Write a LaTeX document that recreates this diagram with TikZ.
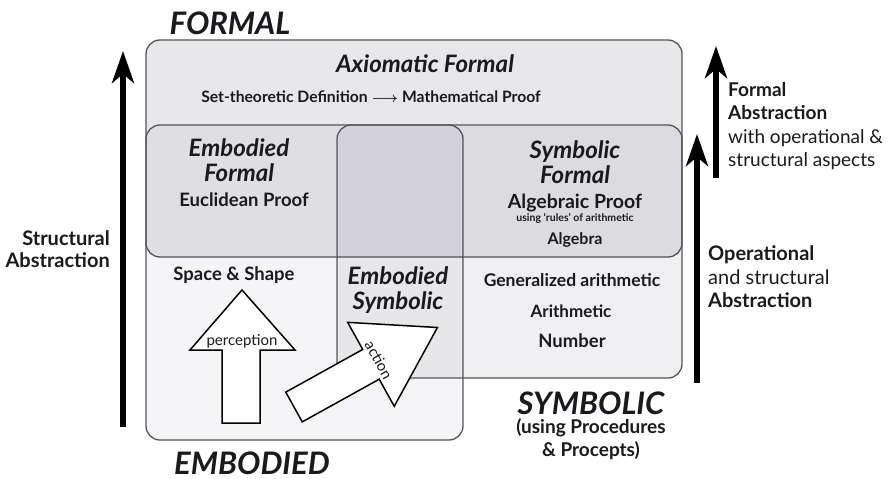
\documentclass[tikz,border=0pt]{standalone}
\usepackage{fontspec}
\setmainfont{Lato}
\usetikzlibrary{arrows.meta}

\definecolor{boxshade}{RGB}{30,30,60}
\definecolor{edgegray}{RGB}{85,85,90}
\definecolor{inkgray}{RGB}{25,25,30}

\newcommand{\fsz}[1]{\fontsize{#1}{1.15\dimexpr#1pt\relax}\selectfont}

\begin{document}
\begin{tikzpicture}[x=1pt, y=-1pt,
    box_style/.style={draw=edgegray, line width=1.3pt, rounded corners=14pt, fill=boxshade},
    world_style/.style={font=\bfseries\itshape\fontsize{31}{33}\selectfont, text=inkgray},
    title_style/.style={font=\bfseries\itshape\fontsize{24}{25}\selectfont, align=center, text=inkgray, inner sep=0pt},
    item_style/.style={font=\bfseries\fontsize{17}{19}\selectfont, text=inkgray, inner sep=0pt},
    side_style/.style={font=\fontsize{19}{23.5}\selectfont, text=inkgray, inner sep=0pt},
    up_arrow/.style={line width=5.5pt, -{Stealth[length=32pt, width=22pt, inset=9pt]}},
    block_arrow/.style={draw=black, line width=1.5pt, fill=white, line join=miter}
]
\useasboundingbox (0,0) rectangle (892,479);

% Three overlapping worlds
\draw[box_style, fill opacity=0.10] (146,40) rectangle (682,257);
\draw[box_style, fill opacity=0.045] (146,125) rectangle (463,440);
\draw[box_style, fill opacity=0.065] (337,125) rectangle (682,378);

% World names
\node[world_style] (formal_word) at (230,23) {FORMAL};
\node[world_style] (embodied_word) at (252,463) {EMBODIED};
\node[world_style] (symbolic_word) at (591,403) {SYMBOLIC};
\node[item_style, font=\bfseries\fontsize{19}{23}\selectfont, align=center] (procepts) at (591,439) {(using Procedures\\\& Procepts)};

% Axiomatic formal
\node[title_style] (axiomatic) at (425,64) {Axiomatic Formal};
\node[item_style, font=\bfseries\fontsize{15.7}{17}\selectfont] (settheory) at (371,97) {Set-theoretic Definition {\boldmath$\longrightarrow$} Mathematical Proof};

% Embodied formal
\node[title_style] (emb_formal) at (239,160) {Embodied\\Formal};
\node[item_style, font=\bfseries\fsz{18.5}] (euclid) at (244,200) {Euclidean Proof};

% Symbolic formal
\node[title_style] (sym_formal) at (575,162) {Symbolic\\Formal};
\node[item_style, font=\bfseries\fsz{19.5}] (alg_proof) at (575,203) {Algebraic Proof};
\node[item_style, font=\bfseries\fsz{10.5}] (rules) at (575,218) {using `rules' of arithmetic};
\node[item_style, font=\bfseries\fsz{16}] (algebra) at (575,240) {Algebra};

% Lower worlds
\node[item_style, font=\bfseries\fsz{18.5}] (space_shape) at (234,275) {Space \& Shape};
\node[title_style] (emb_symb) at (398,290) {Embodied\\Symbolic};
\node[item_style, font=\bfseries\fsz{17.5}] (gen_arith) at (572,280) {Generalized arithmetic};
\node[item_style] (arith) at (571,311) {Arithmetic};
\node[item_style, font=\bfseries\fsz{18.5}] (number) at (572,341) {Number};

% perception
\draw[block_arrow] (242,290) -- (295,350) -- (260,350) -- (260,423) -- (222,423) -- (222,350) -- (190,350) -- cycle;
\node[font=\fsz{15}, text=inkgray, inner sep=0pt] (perception) at (242,341) {perception};

% action
\begin{scope}[shift={(294,407)}, rotate=29]
    \draw[block_arrow] (0,-17) -- (88,-17) -- (88,-48) -- (164,0) -- (88,48) -- (88,17) -- (0,17) -- cycle;
    \node[font=\fsz{15}, text=inkgray, inner sep=0pt, rotate=-61] (action) at (97,0) {action};
\end{scope}

% Abstraction arrows
\coordinate (struct_base) at (123,427);
\coordinate (struct_tip) at (123,51);
\draw[up_arrow] (struct_base) -- (struct_tip);
\node[side_style, font=\bfseries\fontsize{20}{22}\selectfont, align=right, anchor=east] (struct_label) at (110,249) {Structural\\Abstraction};

\coordinate (formal_base) at (716,178);
\coordinate (formal_tip) at (716,46);
\draw[up_arrow] (formal_base) -- (formal_tip);
\node[side_style, align=left, anchor=west] (formal_label) at (728,126) {\textbf{Formal}\\\textbf{Abstraction}\\with operational \&\\structural aspects};

\coordinate (oper_base) at (697,383);
\coordinate (oper_tip) at (697,134);
\draw[up_arrow] (oper_base) -- (oper_tip);
\node[side_style, font=\fontsize{20}{23.5}\selectfont, align=left, anchor=west] (oper_label) at (708,277) {\textbf{Operational}\\and structural\\\textbf{Abstraction}};
\end{tikzpicture}
\end{document}
